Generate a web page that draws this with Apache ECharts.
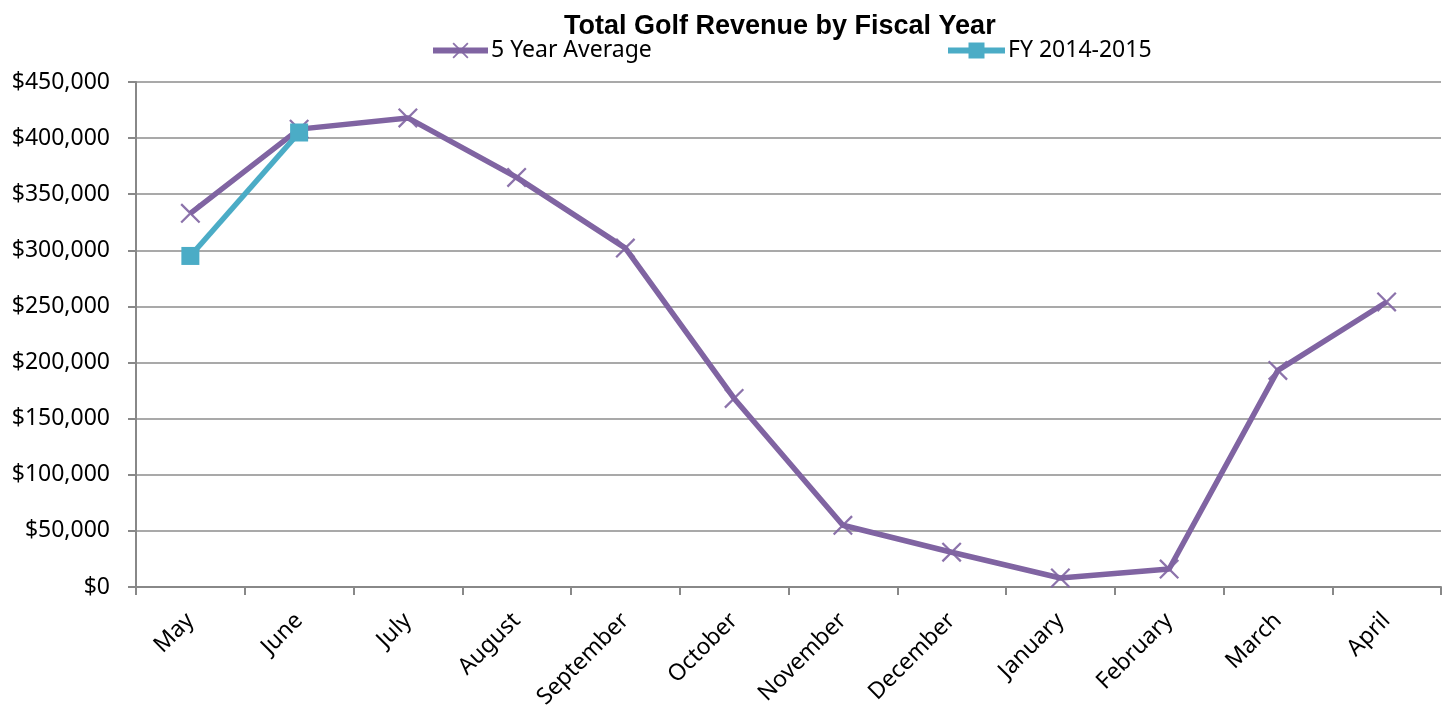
<!DOCTYPE html>
<html>
<head>
<meta charset="utf-8">
<style>
  html, body { margin: 0; padding: 0; background: #fff; }
  #chart { width: 1448px; height: 706px; }
</style>
<script src="https://cdn.jsdelivr.net/npm/echarts@6/dist/echarts.min.js"></script>
</head>
<body>
<div id="chart"></div>
<script>
const months = ["May", "June", "July", "August", "September", "October", "November", "December", "January", "February", "March", "April"]
const fiveYearAverage = [333000, 408000, 418000, 365000, 302000, 168000, 55000, 31000, 8000, 16000, 193000, 254000]
const fy20142015 = [295000, 405000, null, null, null, null, null, null, null, null, null, null]

const purple = "#8064A2"
const teal = "#4BACC6"
const crossPath = "path://M0,0.8L0.8,0L10,9.2L9.2,10ZM9.2,0L10,0.8L0.8,10L0,9.2Z"
const labelFont = "'Noto Sans', sans-serif"

const chart = echarts.init(document.getElementById("chart"), null, { renderer: "canvas" })

function money(value) {
  return "$" + value.toLocaleString("en-US")
}

chart.setOption({
  animation: false,
  backgroundColor: "#fff",
  title: {
    text: "Total Golf Revenue by Fiscal Year",
    left: 564,
    top: 13,
    padding: 0,
    textStyle: { fontFamily: "'Liberation Sans', Arial, sans-serif", fontWeight: "bold", fontSize: 27, color: "#000" }
  },
  legend: [
    {
      data: ["5 Year Average"],
      left: 430,
      top: 39,
      padding: 0,
      itemWidth: 55,
      itemHeight: 20,
      itemGap: 4,
      lineStyle: { width: 6 },
      textStyle: { fontFamily: labelFont, fontSize: 23, color: "#000", padding: [0, 0, 0, -2] }
    },
    {
      data: ["FY 2014-2015"],
      left: 945,
      top: 39,
      padding: 0,
      itemWidth: 57,
      itemHeight: 20,
      lineStyle: { width: 6 },
      textStyle: { fontFamily: labelFont, fontSize: 23, color: "#000", padding: [0, 0, 0, -2] }
    }
  ],
  grid: { left: 136, right: 7, top: 82, bottom: 119, containLabel: false, outerBoundsMode: "none" },
  xAxis: {
    type: "category",
    data: months,
    boundaryGap: true,
    axisLine: { lineStyle: { color: "#888", width: 2 } },
    axisTick: { show: true, length: 8, interval: 0, lineStyle: { color: "#888", width: 2 } },
    axisLabel: { interval: 0, rotate: 45, margin: 30, fontFamily: labelFont, fontSize: 23, color: "#000" }
  },
  yAxis: {
    type: "value",
    min: 0,
    max: 450000,
    interval: 50000,
    axisLine: { show: true, lineStyle: { color: "#888", width: 2 } },
    axisTick: { show: true, length: 8, lineStyle: { color: "#888", width: 2 } },
    axisLabel: { margin: 26, fontFamily: labelFont, fontSize: 23, color: "#000", formatter: money },
    splitLine: { lineStyle: { color: "#8c8c8c", width: 1.5 } }
  },
  series: [
    {
      name: "5 Year Average",
      type: "line",
      data: fiveYearAverage,
      color: purple,
      lineStyle: { width: 5.5, color: purple },
      symbol: crossPath,
      symbolSize: 20,
      itemStyle: { color: purple, opacity: 0.9 },
      z: 2
    },
    {
      name: "FY 2014-2015",
      type: "line",
      data: fy20142015,
      color: teal,
      lineStyle: { width: 5.5, color: teal },
      symbol: "rect",
      symbolSize: 18,
      itemStyle: { color: teal },
      z: 3
    }
  ]
})
</script>
</body>
</html>
